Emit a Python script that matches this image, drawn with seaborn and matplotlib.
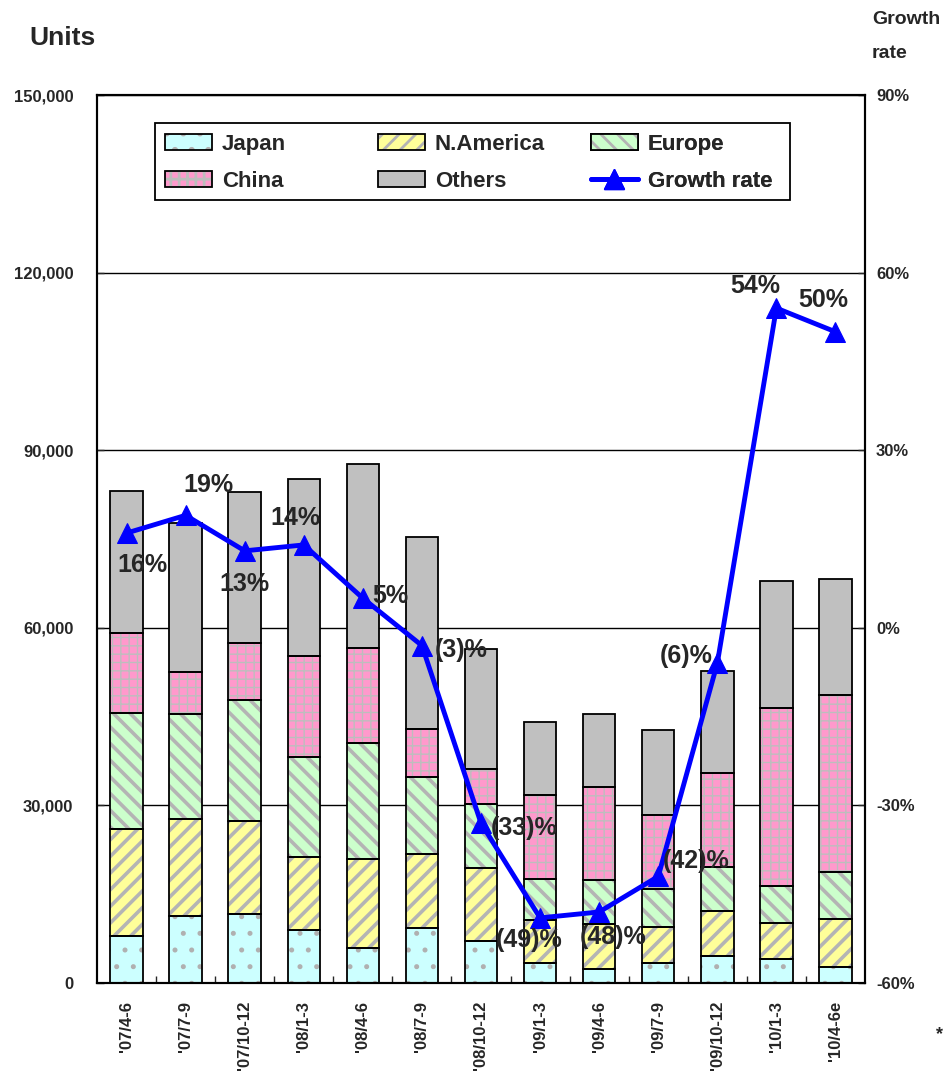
import matplotlib
matplotlib.use('Agg')
import matplotlib.pyplot as plt
import seaborn as sns
import numpy as np
from matplotlib.patches import Patch, Rectangle
from matplotlib.lines import Line2D
from matplotlib.ticker import FuncFormatter, FixedLocator

# Quarterly unit shipments by region, plus year-on-year growth rate
periods = ["'07/4-6", "'07/7-9", "'07/10-12", "'08/1-3", "'08/4-6", "'08/7-9", "'08/10-12",
           "'09/1-3", "'09/4-6", "'09/7-9", "'09/10-12", "'10/1-3", "'10/4-6e"]
japan = [8000, 11300, 11650, 8950, 5900, 9300, 7100, 3400, 2400, 3400, 4600, 4050, 2700]
n_america = [18000, 16400, 15750, 12350, 15000, 12500, 12300, 7200, 7600, 6100, 7600, 6050, 8100]
europe = [19600, 17700, 20400, 16900, 19600, 13000, 10800, 7000, 7400, 6400, 7400, 6300, 7950]
china = [13500, 7100, 9600, 17000, 16100, 8100, 5900, 14200, 15700, 12500, 15900, 30100, 29900]
others = [24000, 25200, 25500, 29900, 31100, 32400, 20300, 12300, 12300, 14300, 17200, 21400, 19550]
growth = [16, 19, 13, 14, 5, -3, -33, -49, -48, -42, -6, 54, 50]

# label offsets in pixels (dx, dy) relative to each growth point
label_offsets = [(16, -32), (23, 30), (0, -33), (-8, 27), (28, 2), (39, -4), (43, -5),
                 (-11, -22), (14, -25), (38, 15), (-31, 7), (-21, 22), (-12, 32)]

sns.set_style('white')
plt.rcParams['font.family'] = ['Liberation Sans', 'DejaVu Sans']
plt.rcParams['font.weight'] = 'bold'
plt.rcParams['hatch.linewidth'] = 2.0

fig = plt.figure(figsize=(9.48, 10.75), dpi=100)
ax = fig.add_axes([97 / 948, 1 - 983 / 1075, 768 / 948, 888 / 1075])

series = [
    ('Japan', japan, '#CCFFFF', '.', '#B0B0B0', 1.2),
    ('N.America', n_america, '#FFFF99', '//', '#B4B4B4', 2.6),
    ('Europe', europe, '#CCFFCC', '\\\\', '#B4B4B4', 2.6),
    ('China', china, '#FF99CC', '++', '#BDBDBD', 1.0),
    ('Others', others, '#C0C0C0', '', '#C0C0C0', 1.0),
]

bar_width = 0.55
bottom = np.zeros(len(periods))
legend_handles = []
for name, values, face, hatch, hcol, hlw in series:
    before = len(ax.patches)
    sns.barplot(x=periods, y=values, bottom=bottom.copy(), width=bar_width, color=face,
                saturation=1, facecolor=face, edgecolor=hcol, linewidth=0, hatch=hatch,
                errorbar=None, ax=ax, zorder=2)
    for p in ax.patches[before:]:
        if hasattr(p, 'set_hatch_linewidth'):
            p.set_hatch_linewidth(hlw)
    sns.barplot(x=periods, y=values, bottom=bottom.copy(), width=bar_width, color=face,
                saturation=1, facecolor='none', edgecolor='black', linewidth=1.3,
                errorbar=None, ax=ax, zorder=3)
    bottom += np.array(values)
    hp = Patch(facecolor=face, edgecolor=hcol, hatch=hatch, linewidth=0)
    if hasattr(hp, 'set_hatch_linewidth'):
        hp.set_hatch_linewidth(hlw)
    op = Patch(facecolor='none', edgecolor='black', linewidth=1.3)
    legend_handles.append((hp, op))

ax.set_xlim(-0.5, len(periods) - 0.5)
ax.set_ylim(0, 150000)
ax.set_xlabel('')
ax.set_ylabel('')
ax.yaxis.set_major_locator(FixedLocator([0, 30000, 60000, 90000, 120000, 150000]))
ax.yaxis.set_major_formatter(FuncFormatter(lambda v, _: f'{int(v):,}'))
ax.grid(axis='y', color='black', linewidth=1.0, zorder=0)
ax.grid(axis='x', visible=False)
ax.set_axisbelow(True)
ax.tick_params(axis='y', direction='in', length=5, width=1, pad=17, labelsize=12, left=True)
ax.set_xticks(range(len(periods)))
ax.set_xticklabels(periods, rotation=90, fontsize=12, fontweight='bold')
ax.tick_params(axis='x', which='major', length=0, pad=13)
ax.set_xticks(np.arange(len(periods) - 1) + 0.5, minor=True)
ax.tick_params(axis='x', which='minor', direction='in', length=5, width=1, bottom=True)
for lab in ax.get_yticklabels():
    lab.set_fontweight('bold')
for s in ax.spines.values():
    s.set_color('black')
    s.set_linewidth(1.5)

# growth rate line on the secondary axis
ax2 = ax.twinx()
x_pos = np.arange(len(periods))
sns.lineplot(x=x_pos, y=growth, ax=ax2, color='#0000FF', linewidth=3.5, marker='^',
             markersize=14, markeredgecolor='#0000FF', zorder=5)
ax2.set_ylim(-60, 90)
ax2.set_ylabel('')
ax2.yaxis.set_major_locator(FixedLocator([-60, -30, 0, 30, 60, 90]))
ax2.yaxis.set_major_formatter(FuncFormatter(lambda v, _: f'{int(v)}%'))
ax2.tick_params(axis='y', direction='in', length=5, width=1, pad=8, labelsize=12, right=True)
for lab in ax2.get_yticklabels():
    lab.set_fontweight('bold')
for s in ax2.spines.values():
    s.set_color('black')
    s.set_linewidth(1.5)

for i, g in enumerate(growth):
    txt = f'({abs(g)})%' if g < 0 else f'{g}%'
    dx, dy = label_offsets[i]
    ax2.annotate(txt, (i, g), xytext=(dx, dy), textcoords='offset pixels',
                 ha='center', va='center', fontsize=18, fontweight='bold', zorder=6)

# legend: three columns of two rows, inside one black frame
line_handle = Line2D([], [], color='#0000FF', linewidth=3.5, marker='^', markersize=14)
columns = [
    ([legend_handles[0], legend_handles[3]], ['Japan', 'China']),
    ([legend_handles[1], legend_handles[4]], ['N.America', 'Others']),
    ([legend_handles[2], line_handle], ['Europe', 'Growth rate']),
]
col_x = [165, 378, 591]
for (hs, ls), cx in zip(columns, col_x):
    leg = ax2.legend(hs, ls, loc='upper left', frameon=False,
                     bbox_to_anchor=((cx - 97) / 768, (983 - 134) / 888),
                     handlelength=2.1, handleheight=0.75, handletextpad=0.45,
                     borderpad=0.0, borderaxespad=0.0, labelspacing=0.72,
                     prop={'weight': 'bold', 'size': 16})
    ax2.add_artist(leg)
ax2.add_patch(Rectangle(((155 - 97) / 768, (983 - 200) / 888), 635 / 768, 77 / 888,
                        transform=ax2.transAxes, facecolor='white', edgecolor='black',
                        linewidth=1.3, zorder=7))
for leg in ax2.artists:
    leg.set_zorder(8)

fig.text(62 / 948, 1 - 38 / 1075, 'Units', ha='center', va='center', fontsize=19,
         fontweight='bold')
fig.text(872 / 948, 1 - 20 / 1075, 'Growth', ha='left', va='center', fontsize=14,
         fontweight='bold')
fig.text(872 / 948, 1 - 53 / 1075, 'rate', ha='left', va='center', fontsize=14,
         fontweight='bold')
fig.text(940 / 948, 1 - 1035 / 1075, '*', ha='center', va='center', fontsize=13,
         fontweight='bold')

fig.savefig('out.png', dpi=100, facecolor='white')
